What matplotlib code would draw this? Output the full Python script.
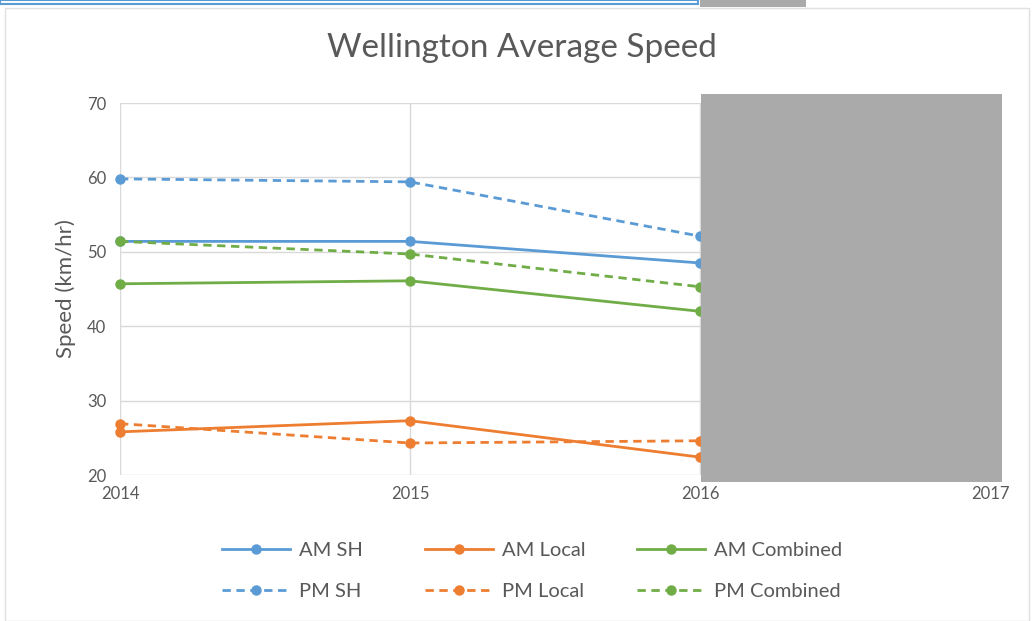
import matplotlib.pyplot as plt
from matplotlib.patches import Rectangle

plt.rcParams['font.family'] = ['Lato', 'DejaVu Sans']

years = [2014, 2015, 2016]
am_sh = [51.4, 51.4, 48.5]
am_local = [25.8, 27.3, 22.4]
am_comb = [45.7, 46.1, 42.0]
pm_sh = [59.8, 59.4, 52.1]
pm_local = [26.9, 24.3, 24.6]
pm_comb = [51.4, 49.7, 45.3]
xticks = [2014, 2015, 2016, 2017]
yticks = [20, 30, 40, 50, 60, 70]

blue = '#5B9BD5'
orange = '#ED7D31'
green = '#70AD47'
txt = '#595959'

W, H = 1032, 621
fig = plt.figure(figsize=(W / 100, H / 100), dpi=100)

# axes placed from pixel positions
ax = fig.add_axes([120 / W, (H - 475) / H, 870 / W, 372 / H])

dash = (0, (3, 2))
series = [
    ('AM SH', am_sh, blue, '-'),
    ('AM Local', am_local, orange, '-'),
    ('AM Combined', am_comb, green, '-'),
    ('PM SH', pm_sh, blue, dash),
    ('PM Local', pm_local, orange, dash),
    ('PM Combined', pm_comb, green, dash),
]
handles = []
for name, vals, c, ls in series:
    ln, = ax.plot(years, vals, color=c, ls=ls, lw=2, marker='o', ms=6.5,
                  label=name, clip_on=False, zorder=3)
    handles.append(ln)

ax.set_xlim(2014, 2017)
ax.set_ylim(20, 70)
ax.set_xticks(xticks)
ax.set_yticks(yticks)
ax.grid(True, color='#D9D9D9', lw=1)
ax.set_axisbelow(True)
for s in ax.spines.values():
    s.set_visible(False)
ax.tick_params(length=0, labelsize=12, colors=txt, pad=10)
ax.tick_params(axis='x', pad=8)
ax.set_ylabel('Speed (km/hr)', fontsize=16, color=txt, labelpad=8)

fig.text(522 / W, 1 - 48 / H, 'Wellington Average Speed', ha='center',
         va='center', fontsize=24, color=txt)

# one small legend per column, AM on top, PM below
col_x = [222, 425, 637]
for k in range(3):
    leg = fig.legend([handles[k], handles[k + 3]],
                     [series[k][0], series[k + 3][0]],
                     loc='center left', bbox_to_anchor=(col_x[k] / W, 1 - 571 / H),
                     frameon=False, fontsize=14.5, handlelength=3.4,
                     labelspacing=1.2, handletextpad=0.4,
                     borderpad=0, borderaxespad=0)
    for t in leg.get_texts():
        t.set_color(txt)

# screenshot frame and occluding box
fig.patches.append(Rectangle((5 / W, 0), 1024 / W, 1 - 8 / H, transform=fig.transFigure,
                             fill=False, ec='#E0E0E0', lw=1))
fig.patches.append(Rectangle((0, 1 - 4 / H), 698 / W, 4 / H, transform=fig.transFigure,
                             fc='white', ec=blue, lw=1.5))
fig.patches.append(Rectangle((700 / W, 1 - 7 / H), 106 / W, 7 / H,
                             transform=fig.transFigure, fc='#AAAAAA', ec='none'))
fig.patches.append(Rectangle((701 / W, 1 - 482 / H), 301 / W, 388 / H,
                             transform=fig.transFigure, fc='#AAAAAA', ec='none',
                             zorder=10))

fig.savefig('out.png', dpi=100)
